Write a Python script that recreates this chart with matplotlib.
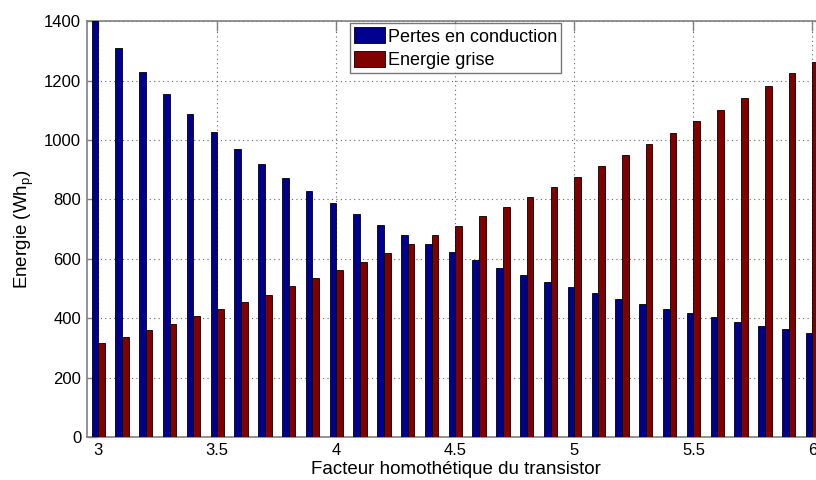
import matplotlib
matplotlib.use("Agg")
import matplotlib.pyplot as plt
import numpy as np

plt.rcParams['font.family'] = ['Liberation Sans', 'DejaVu Sans']

factors = [3.0, 3.1, 3.2, 3.3, 3.4, 3.5, 3.6, 3.7, 3.8, 3.9, 4.0,
           4.1, 4.2, 4.3, 4.4, 4.5, 4.6, 4.7, 4.8, 4.9, 5.0,
           5.1, 5.2, 5.3, 5.4, 5.5, 5.6, 5.7, 5.8, 5.9, 6.0]
pertes = [1400, 1310, 1228, 1155, 1088, 1027, 970, 920, 872, 827, 788,
          751, 715, 679, 650, 622, 595, 570, 547, 524, 505,
          485, 465, 447, 432, 418, 403, 388, 375, 363, 351]
grise = [317, 337, 360, 382, 408, 430, 455, 480, 508, 535, 562,
         590, 620, 650, 679, 710, 743, 774, 809, 842, 877,
         913, 950, 986, 1023, 1063, 1100, 1141, 1182, 1224, 1263]
labels = ['Pertes en conduction', 'Energie grise']
xticks = [3, 3.5, 4, 4.5, 5, 5.5, 6]
yticks = [0, 200, 400, 600, 800, 1000, 1200, 1400]

fig = plt.figure(figsize=(8.16, 4.8), dpi=100)
ax = fig.add_axes([0.1063, 0.089, 0.904, 0.867])

x = np.array(factors)
w = 0.028
ax.bar(x - w / 2, pertes, width=w, color='#00008F', edgecolor='black',
       linewidth=0.6, label=labels[0], zorder=3)
ax.bar(x + w / 2, grise, width=w, color='#800000', edgecolor='black',
       linewidth=0.6, label=labels[1], zorder=3)

ax.set_xlim(2.952, 6.05)
ax.set_ylim(0, 1400)
ax.set_xticks(xticks)
ax.set_xticklabels(['3', '3.5', '4', '4.5', '5', '5.5', '6'])
ax.set_yticks(yticks)
ax.grid(True, linestyle=(0, (1, 3)), color='#666666', linewidth=0.8, zorder=0)
ax.tick_params(direction='in', length=7, width=1, color='#808080',
               labelsize=12, top=True, right=True, pad=4)
for s in ax.spines.values():
    s.set_color('#808080')
    s.set_linewidth(1.2)

ax.set_xlabel('Facteur homothétique du transistor', fontsize=13.5, labelpad=2)
ax.set_ylabel('Energie (Wh$_\\mathregular{p}$)', fontsize=13.5, labelpad=6)

leg = ax.legend(loc='upper center', bbox_to_anchor=(0.5, 0.996), fontsize=13,
                frameon=True, fancybox=False, edgecolor='#555555',
                handlelength=1.7, handleheight=1.0, handletextpad=0.15,
                borderpad=0.25, labelspacing=0.28, borderaxespad=0.0)
leg.get_frame().set_linewidth(1.0)

fig.savefig('out.png', dpi=100)
